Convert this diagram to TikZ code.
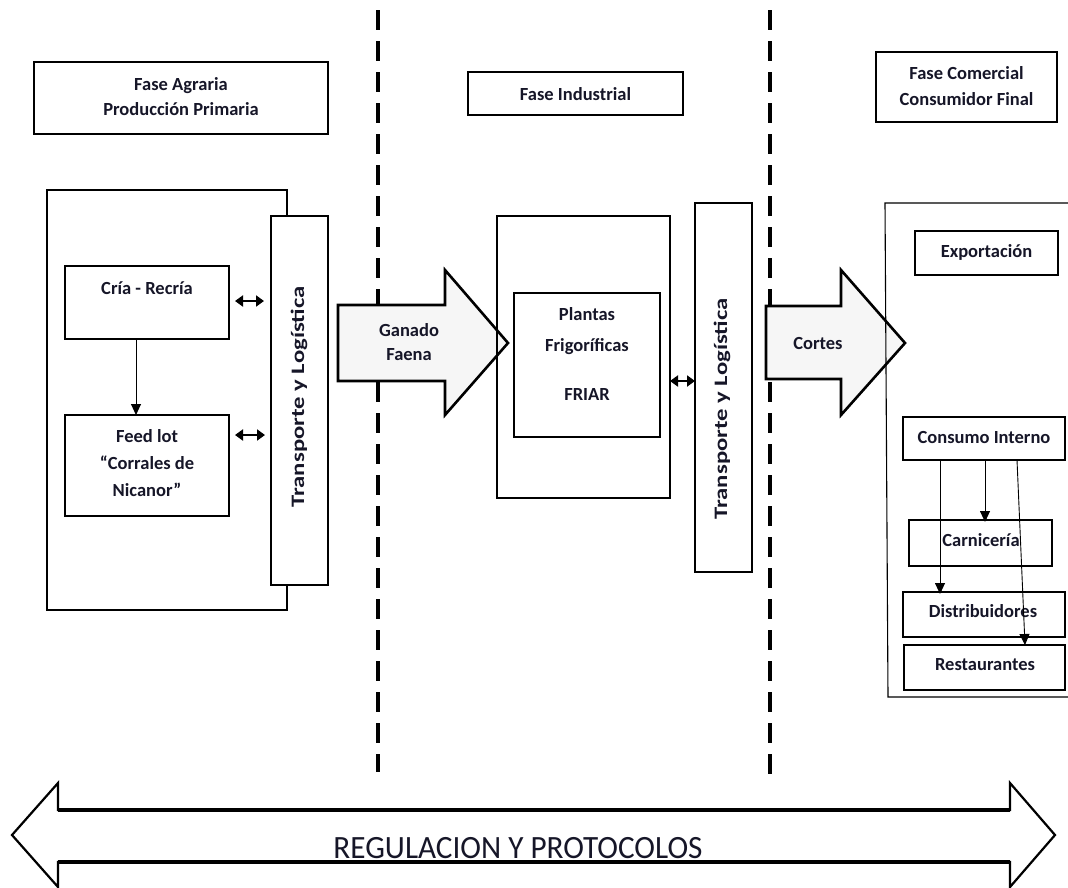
\documentclass[tikz,border=0pt]{standalone}
\usepackage{fontspec}
\setmainfont{Carlito}
\usetikzlibrary{arrows.meta}
\definecolor{txt}{RGB}{22,22,40}
\definecolor{arrfill}{RGB}{246,246,246}
\begin{document}
\begin{tikzpicture}[x=1pt,y=-1pt,
  box/.style={draw,line width=1.1pt,fill=white,inner sep=0pt,outer sep=0pt},
  openbox/.style={draw,line width=1.1pt,inner sep=0pt,outer sep=0pt},
  lbl/.style={font=\bfseries\fontsize{18.5}{22}\selectfont,text=txt,inner sep=0pt,anchor=base},
  vlbl/.style={font=\bfseries\fontsize{19}{22}\selectfont,text=txt,inner sep=0pt,rotate=90},
  blockarrow/.style={draw,line width=2.6pt,fill=arrfill,line join=miter},
  divider/.style={line width=3.6pt,dash pattern=on 20pt off 11pt},
  dbl/.style={line width=2.4pt,{Triangle[length=8pt,width=11pt]}-{Triangle[length=8pt,width=11pt]}},
  flow/.style={line width=0.9pt,-{Triangle[length=11pt,width=10pt]}},
]
\useasboundingbox (0,0) rectangle (1068,887);

% dividers
\draw[divider] (378,10) -- (378,772);
\draw[divider] (770,10) -- (770,778);

% phase headers
\node[box,minimum width=294pt,minimum height=72pt] (fa) at (181,98) {};
\node[lbl] (fa1) at (181,90) {Fase Agraria};
\node[lbl] (fa2) at (181,115) {Producción Primaria};
\node[box,minimum width=215pt,minimum height=43pt] (fi) at (575.5,93.5) {};
\node[lbl] (fi1) at (575.5,100) {Fase Industrial};
\node[box,minimum width=181pt,minimum height=70pt] (fc) at (966.5,87) {};
\node[lbl] (fc1) at (966.5,79) {Fase Comercial};
\node[lbl] (fc2) at (966.5,105) {Consumidor Final};

% agrarian phase
\node[openbox,minimum width=240pt,minimum height=420pt] (agr) at (167,400) {};
\node[box,minimum width=57pt,minimum height=369pt] (tl1) at (299.5,400.5) {};
\node[vlbl] (tl1t) at (299,397) {\scalebox{1.3}[1]{Transporte y Logística}};
\node[box,minimum width=164pt,minimum height=73pt] (cria) at (147,302.5) {};
\node[lbl] (criat) at (147,294) {Cría - Recría};
\node[box,minimum width=164pt,minimum height=101pt] (feed) at (147,465.5) {};
\node[lbl] (feed1) at (147,442) {Feed lot};
\node[lbl] (feed2) at (147,469) {“Corrales de};
\node[lbl] (feed3) at (147,496) {Nicanor”};
\draw[flow] (cria.south -| 136,0) -- (feed.north -| 136,0);
\coordinate (d1a) at (235,301);
\coordinate (d2a) at (235,435);
\draw[dbl] (d1a) -- ([xshift=-7pt]d1a -| tl1.west);
\draw[dbl] (d2a) -- ([xshift=-6pt]d2a -| tl1.west);

% Ganado Faena block arrow
\draw[blockarrow] (338,305) -- (445,305) -- (445,270) -- (508,343) -- (445,415) -- (445,381) -- (338,381) -- cycle;
\node[lbl] (gf1) at (409,336) {Ganado};
\node[lbl] (gf2) at (409,360) {Faena};

% industrial phase
\node[openbox,minimum width=173pt,minimum height=282pt] (ind) at (583.5,357) {};
\node[box,minimum width=146pt,minimum height=144pt] (pf) at (587,365) {};
\node[lbl] (pf1) at (587,320) {Plantas};
\node[lbl] (pf2) at (587,351) {Frigoríficas};
\node[lbl] (pf3) at (587,400) {FRIAR};
\node[box,minimum width=57pt,minimum height=369pt] (tl2) at (723.5,387.5) {};
\node[vlbl] (tl2t) at (722,409) {\scalebox{1.3}[1]{Transporte y Logística}};
\coordinate (d3a) at (670,381);
\draw[dbl] (d3a) -- (d3a -| tl2.west);

% Cortes block arrow
\draw[blockarrow] (766,306) -- (841,306) -- (841,270) -- (905,343) -- (841,415) -- (841,379) -- (766,379) -- cycle;
\node[lbl] (co) at (818,349) {Cortes};

% commercial phase
\coordinate (cr1) at (1068,203);
\coordinate (cr2) at (885,203);
\coordinate (cr3) at (888,697);
\coordinate (cr4) at (1068,697);
\draw[line width=1.1pt] (cr1) -- (cr2) -- (cr3) -- (cr4);
\node[box,minimum width=143pt,minimum height=44pt] (exp) at (986.5,253) {};
\node[lbl] (expt) at (986.5,257) {Exportación};
\node[box,minimum width=162pt,minimum height=43pt] (ci) at (984,438.5) {};
\node[lbl] (cit) at (984,443) {Consumo Interno};
\node[box,minimum width=143pt,minimum height=46pt] (car) at (980.5,543) {};
\node[box,minimum width=162pt,minimum height=45pt] (dis) at (984,614.5) {};
\node[box,minimum width=161pt,minimum height=45pt] (res) at (984.5,667.5) {};
\node[lbl] (dist) at (983,617) {Distribuidores};
\node[lbl] (rest) at (985,670) {Restaurantes};
\draw[flow] ([xshift=37pt]ci.south west) -- ([xshift=37pt,yshift=-2pt]ci.south west |- dis.north);
\draw[flow] ([xshift=82pt]ci.south west) -- ([xshift=82pt,yshift=-2pt]ci.south west |- car.north);
\draw[flow] ([xshift=114pt]ci.south west) -- ([xshift=121pt]res.north west);
\node[lbl] (cart) at (981,546) {Carnicería};

% regulation double block arrow
\draw[line width=2.2pt,fill=white,line join=miter]
  (12,835) -- (58,783) -- (58,810) -- (1010,810) -- (1010,783) -- (1055,835)
  -- (1010,887) -- (1010,862) -- (58,862) -- (58,887) -- cycle;
\draw[line width=4pt] (58,810) -- (1010,810);
\draw[line width=4pt] (58,862) -- (1010,862);
\node[font=\fontsize{32.5}{36}\selectfont,text=txt,inner sep=0pt,anchor=base] (reg) at (518,858)
  {\scalebox{0.96}[1]{REGULACION Y PROTOCOLOS}};
\end{tikzpicture}
\end{document}
